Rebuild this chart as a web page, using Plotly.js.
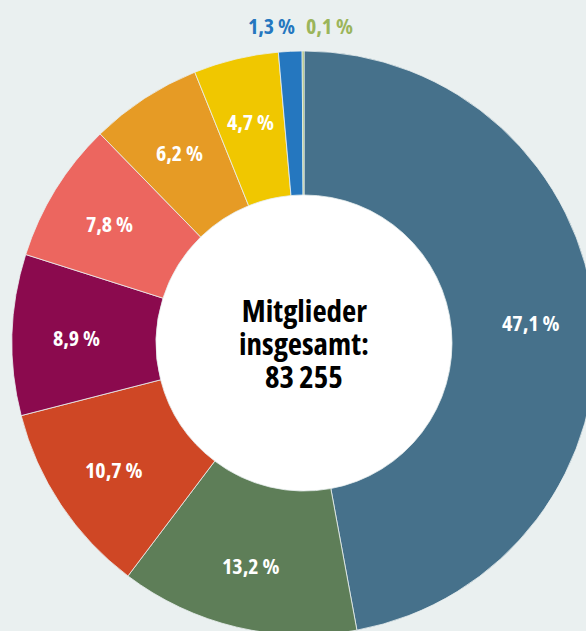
<!DOCTYPE html>
<html>
<head>
<meta charset="utf-8">
<script src="https://cdn.plot.ly/plotly-3.0.1.min.js"></script>
<style>
  html, body { margin: 0; padding: 0; background: #eaf0f0; overflow: hidden; }
  #chart { position: absolute; left: 0; top: 0; }
  #chart svg text { font-stretch: 75% !important; }
</style>
</head>
<body>
<div id="chart"></div>
<script>
// ---- data ----
const categories = ['Kategorie 1', 'Kategorie 2', 'Kategorie 3', 'Kategorie 4', 'Kategorie 5',
                    'Kategorie 6', 'Kategorie 7', 'Kategorie 8', 'Kategorie 9'];
const shares = [47.1, 13.2, 10.7, 8.9, 7.8, 6.2, 4.7, 1.3, 0.1];
const colors = ['#46718b', '#5e7e58', '#cf4725', '#8b0a4e', '#ec665f',
                '#e69b25', '#f0c700', '#2577bf', '#9bb55a'];
const outsideLabelIdx = [7, 8];
const centerLines = ['Mitglieder', 'insgesamt:', '83\u2009255'];

// ---- layout geometry (pixels) ----
const W = 650, H = 700;
const cx = 304, cy = 343, R = 292, holeR = 148;
const labelR = 228;
const FONT = 'Open Sans, Roboto, sans-serif';

const fmt = v => v.toFixed(1).replace('.', ',') + ' %';
const px = x => x / W;
const py = y => 1 - y / H;

const total = shares.reduce((a, b) => a + b, 0);

const trace = {
  type: 'pie',
  labels: categories,
  values: shares,
  textinfo: 'none',
  marker: { colors: colors, line: { color: 'rgba(234,240,240,0.8)', width: 1 } },
  sort: false,
  direction: 'clockwise',
  rotation: 0,
  hole: holeR / R,
  domain: { x: [px(cx - R), px(cx + R)], y: [py(cy + R), py(cy - R)] },
  showlegend: false,
  hoverinfo: 'none'
};

const annotations = [];
// inside labels at slice bisectors
let cum = 0;
shares.forEach((v, i) => {
  const mid = (cum + v / 2) / total * 2 * Math.PI;
  cum += v;
  if (outsideLabelIdx.includes(i)) return;
  annotations.push({
    text: fmt(v), showarrow: false,
    xref: 'paper', yref: 'paper',
    x: px(cx + labelR * Math.sin(mid)), y: py(cy - labelR * Math.cos(mid)),
    xanchor: 'center', yanchor: 'middle',
    font: { family: FONT, size: 22, color: '#ffffff', weight: 750 }
  });
});
// outside labels for the tiny slices
const outsidePos = [[271, 25], [329, 25]];
outsideLabelIdx.forEach((idx, k) => {
  annotations.push({
    text: fmt(shares[idx]), showarrow: false,
    xref: 'paper', yref: 'paper',
    x: px(outsidePos[k][0]), y: py(outsidePos[k][1]),
    xanchor: 'center', yanchor: 'middle',
    font: { family: FONT, size: 22, color: colors[idx], weight: 750 }
  });
});
// center text
centerLines.forEach((t, k) => {
  annotations.push({
    text: t, showarrow: false,
    xref: 'paper', yref: 'paper',
    x: px(cx), y: py(cy + (k - 1) * 32.5),
    xanchor: 'center', yanchor: 'middle',
    font: { family: FONT, size: 31, color: '#000000', weight: 700 }
  });
});

const layout = {
  width: W, height: H,
  margin: { l: 0, r: 0, t: 0, b: 0 },
  paper_bgcolor: '#eaf0f0',
  plot_bgcolor: '#eaf0f0',
  shapes: [{
    type: 'circle', xref: 'paper', yref: 'paper',
    x0: px(cx - holeR), x1: px(cx + holeR),
    y0: py(cy + holeR), y1: py(cy - holeR),
    fillcolor: '#ffffff', line: { width: 0 }, layer: 'below'
  }],
  annotations: annotations
};

Plotly.newPlot('chart', [trace], layout, { staticPlot: true, displayModeBar: false });
</script>
</body>
</html>
